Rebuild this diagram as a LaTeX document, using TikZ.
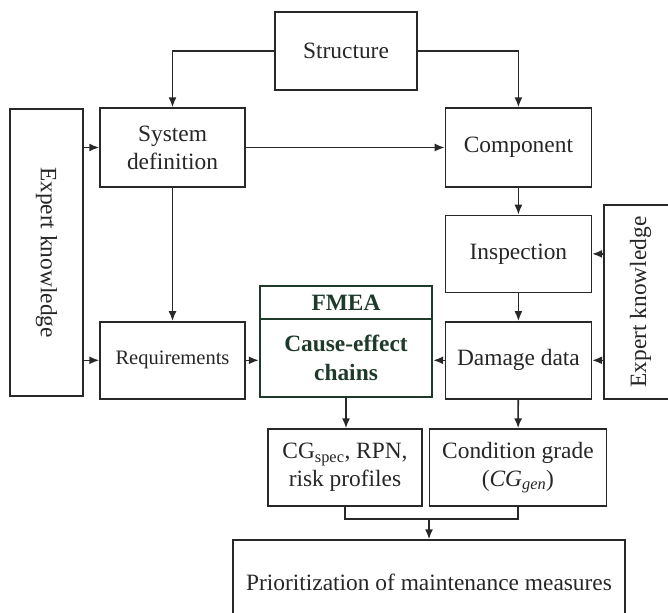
\documentclass[tikz,border=0pt]{standalone}
\usepackage{fontspec}
\setmainfont{Liberation Serif}
\usetikzlibrary{arrows.meta, positioning}
\definecolor{linegray}{RGB}{40,40,40}
\definecolor{fmeagreen}{RGB}{30,58,42}
\tikzstyle{block}=[draw=linegray,line width=1.4pt,rectangle,align=center,inner sep=2pt,minimum height=77pt,text=black!85]
\tikzstyle{every node}=[font=\fontsize{23.4}{28}\selectfont]
\tikzstyle{fmea}=[block,draw=fmeagreen,line width=2.4pt,text=fmeagreen,minimum width=172pt,font=\fontsize{23.4}{29}\selectfont\bfseries]
\tikzstyle{flow}=[draw=linegray,line width=1.6pt]

\begin{document}
\begin{tikzpicture}[x=1pt,y=-1pt,>={Latex[length=10pt,width=8pt]}]
  \useasboundingbox (0,0) rectangle (668,612);
  \clip (0,0) rectangle (668,612);
  \node[block, minimum width=142pt, minimum height=78pt] (struct) at (346,51) {Structure};
  \node[block, minimum width=145pt, minimum height=79pt] (sysdef) at (172.5,147.5) {System\\definition};
  \node[block, minimum width=146pt, minimum height=79pt, right=199pt of sysdef] (comp) {Component};
  \node[block, minimum width=146pt, below=27pt of comp] (insp) {Inspection};
  \node[block, minimum width=146pt, below=28pt of insp] (dmg) {Damage data};
  \node[block, minimum width=145pt, font=\fontsize{20.5}{24}\selectfont] (req) at (sysdef |- dmg) {Requirements};
  \node[fmea, minimum height=78pt] (fmeabody) at (346,358) {Cause-effect\\chains};
  \node[fmea, minimum height=33pt, above=-2.4pt of fmeabody] (fmeahead) {FMEA};
  \node[block, rotate=-90, minimum width=287pt, minimum height=73pt] (expL) at (46.5,252.5) {Expert knowledge};
  \node[block, rotate=90, minimum width=194pt, minimum height=73pt] (expR) at (640.5,302) {Expert knowledge};
  \node[block, minimum width=154pt] (cgspec) at (345,467.5) {CG\textsubscript{spec}, RPN,\\risk profiles};
  \node[block, minimum width=177pt, right=6pt of cgspec] (cond) {Condition grade\\(\textit{CG}\textsubscript{\textit{gen}})};
  \node[block, minimum width=392pt, minimum height=84pt] (prio) at (429,582) {Prioritization of maintenance measures};
  % top part
  \draw[flow,->] (struct.west) -| (sysdef.north);
  \draw[flow,->] (struct.east) -| (comp.north);
  \draw[flow,->] (sysdef) -- (comp);
  \draw[flow,->] (expL.north |- sysdef.west) -- (sysdef.west);
  \draw[flow,->] (expL.north |- req.west) -- (req.west);
  \draw[flow,->] (sysdef) -- (req);
  \draw[flow,->] (comp) -- (insp);
  \draw[flow,->] (insp) -- (dmg);
  \draw[flow,->] (expR.north |- insp.east) -- (insp.east);
  \draw[flow,->] (expR.north |- dmg.east) -- (dmg.east);
  % into FMEA
  \draw[flow,->] (req.east) -- (fmeabody.west |- req.east);
  \draw[flow,->] (dmg.west) -- (fmeabody.east |- dmg.west);
  % results
  \draw[flow,->] (fmeabody.south) -- (fmeabody.south |- cgspec.north);
  \draw[flow,->] (dmg) -- (cond);
  \path (cgspec.south) ++(0,12) coordinate (merge);
  \draw[flow] (cgspec.south) -- (merge) -| (cond.south);
  \draw[flow,->] (merge -| prio.north) -- (prio.north);
\end{tikzpicture}
\end{document}
